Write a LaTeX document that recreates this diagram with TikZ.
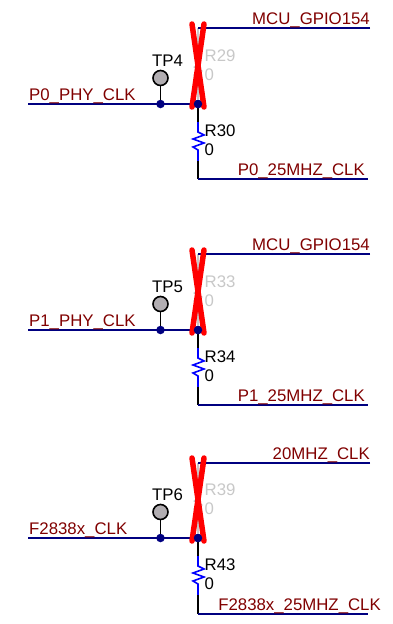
\documentclass[tikz,border=0pt]{standalone}
\usepackage{fontspec}
\setmainfont{Liberation Sans}
\definecolor{wirec}{RGB}{0,0,128}
\definecolor{netc}{RGB}{128,0,0}
\definecolor{tpfill}{RGB}{178,174,178}
\definecolor{ghost}{RGB}{200,200,200}
\newcommand{\fsz}{\fontsize{16.8}{18}\selectfont}
\tikzset{
  x=1pt,y=-1pt,
  wire/.style={draw=wirec,line width=1.6pt},
  stub/.style={draw=black,line width=1.6pt},
  resz/.style={draw=blue,line width=1.6pt},
  redx/.style={draw=red,line width=5.5pt,line cap=round},
  netlabel/.style={text=netc,font=\fsz,inner sep=0pt,anchor=base west},
  reflabel/.style={text=black,font=\fsz,inner sep=0pt,anchor=base west},
  offlabel/.style={text=ghost,font=\fsz,inner sep=0pt,anchor=base west},
  dotj/.style={circle,fill=wirec,draw=none,minimum size=8.5pt,inner sep=0pt},
  tppad/.style={circle,fill=tpfill,draw=black,line width=1.6pt,minimum size=15pt,inner sep=0pt},
}
% #1 y of mid wire, #2 top y, #3 bottom y, #4 TP, #5 left net, #6 offref, #7 ref, #8 top net, #9 bottom net
\newcommand{\clkgroup}[9]{%
  \begin{scope}[shift={(0,#1)}]
    \coordinate (L) at (28,0);
    \coordinate (T) at (198,#2);
    \coordinate (TE) at (370,#2);
    \coordinate (B) at (198,#3);
    \coordinate (BE) at (368,#3);
    \node[dotj] (JA) at (160.5,0) {};
    \node[dotj] (JB) at (198,0) {};
    \node[tppad] (TPP) at (160.5,-26) {};
    \coordinate (RA) at (198,18);
    \coordinate (RB) at (198,57);
    % bypassed resistor, greyed out
    \draw[ghost,line width=1.6pt] (T) -- (198,#2+10) -- (198,-40) -- ++(-3.5,3) -- ++(7,4) -- ++(-7,4) -- ++(7,4) -- ++(-7,4) -- ++(3.5,2) -- (JB);
    \node[offlabel] at (204.5,-43) {#6};
    \node[offlabel] at (204.5,-24) {0};
    \draw[wire] (TE) -- (T);
    \draw[wire] (L) -- (JB);
    \draw[stub] (JA) -- (TPP);
    \draw[stub] (JB) -- (RA);
    \draw[resz] (RA) -- (198,28) -- (204,31) -- (193,35) -- (204,39) -- (193,43) -- (198,46) -- (RB);
    \draw[stub] (RB) -- (B);
    \draw[wire] (B) -- (BE);
    \draw[redx] (192,-80) -- (204,3);
    \draw[redx] (204,-80) -- (192,3);
    \node[dotj] at (JB) {};
    \node[reflabel] at (152,-38) {#4};
    \node[netlabel] at (29,-4) {#5};
    \node[reflabel] at (204.5,32) {#7};
    \node[reflabel] at (204.5,51) {0};
    \node[netlabel,anchor=base east] at (370,#2-4) {#8};
    \node[netlabel,anchor=base east] at (365,#3-4) {#9};
  \end{scope}
}
\begin{document}
\begin{tikzpicture}
  \useasboundingbox (0,0) rectangle (393,624);
  \clkgroup{104}{-76}{75}{TP4}{P0\_PHY\_CLK}{R29}{R30}{MCU\_GPIO154}{P0\_25MHZ\_CLK}
  \clkgroup{330}{-76}{75}{TP5}{P1\_PHY\_CLK}{R33}{R34}{MCU\_GPIO154}{P1\_25MHZ\_CLK}
  \clkgroup{538}{-75}{76}{TP6}{F2838x\_CLK}{R39}{R43}{20MHZ\_CLK}{}
  \node[netlabel,anchor=base east] at (381,610) {F2838x\_25MHZ\_CLK};
\end{tikzpicture}
\end{document}
